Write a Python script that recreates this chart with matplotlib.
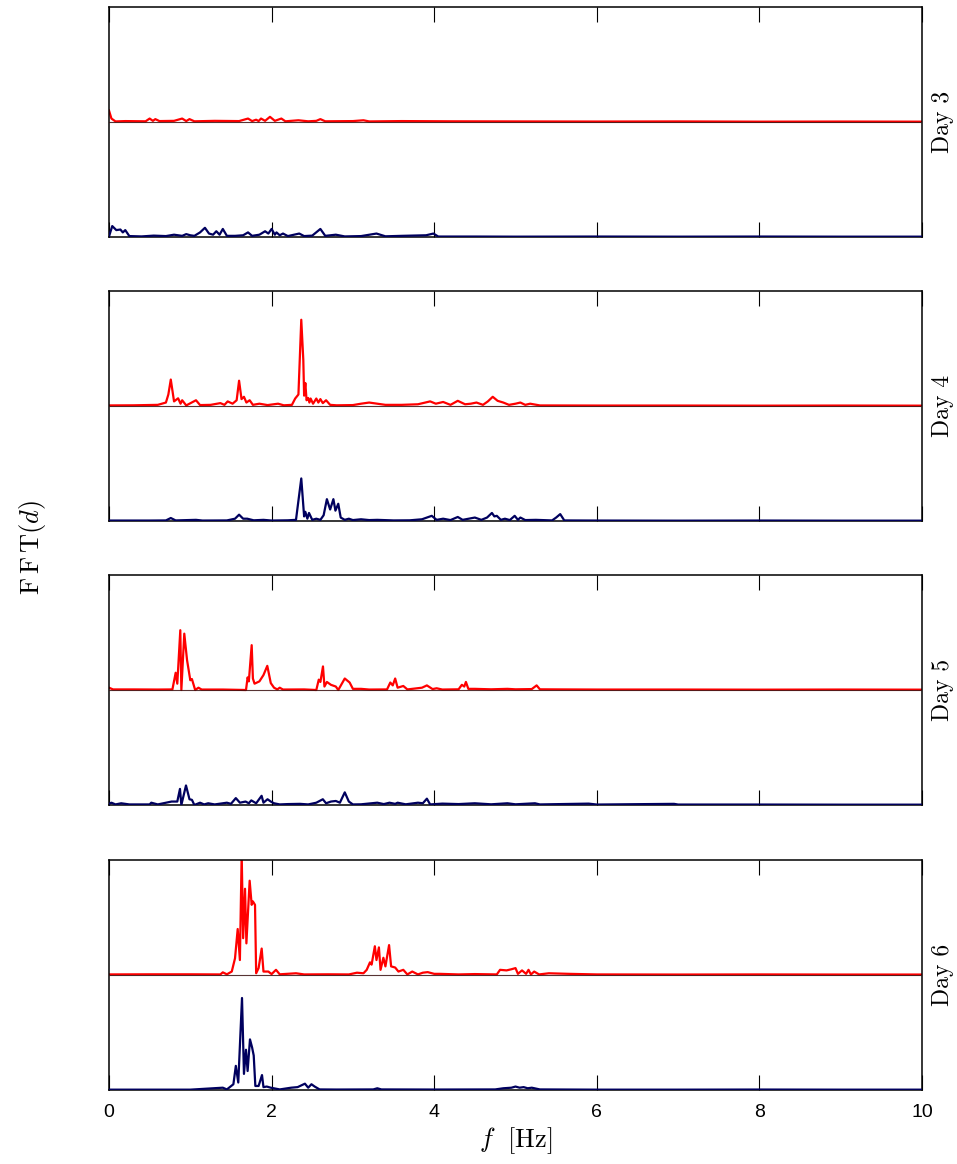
import matplotlib
matplotlib.use("Agg")
import matplotlib.pyplot as plt
import numpy as np

plt.rcParams["mathtext.fontset"] = "cm"

# Spectral amplitude (normalised) of the displacement signal, as (frequency [Hz], |FFT|) pairs.
# Upper trace (red) and lower trace (navy) for each day.
day3_red = [(0.0, 0.10), (0.03, 0.03), (0.08, 0.005), (0.2, 0.008), (0.45, 0.006), (0.5, 0.03),
            (0.54, 0.01), (0.57, 0.025), (0.62, 0.008), (0.8, 0.01), (0.9, 0.03), (0.95, 0.008),
            (0.99, 0.025), (1.05, 0.006), (1.3, 0.01), (1.6, 0.008), (1.71, 0.03), (1.76, 0.008),
            (1.81, 0.02), (1.84, 0.008), (1.87, 0.03), (1.92, 0.01), (1.98, 0.045), (2.04, 0.01),
            (2.08, 0.02), (2.12, 0.03), (2.17, 0.006), (2.33, 0.015), (2.45, 0.006), (2.55, 0.01),
            (2.6, 0.025), (2.66, 0.006), (3.0, 0.008), (3.13, 0.015), (3.2, 0.005), (3.6, 0.008),
            (4.2, 0.006), (5.0, 0.005), (6.0, 0.004), (7.0, 0.005), (8.0, 0.003), (9.0, 0.004),
            (10.0, 0.003)]
day3_navy = [(0.0, 0.005), (0.04, 0.095), (0.09, 0.06), (0.14, 0.065), (0.17, 0.04), (0.2, 0.06),
             (0.25, 0.008), (0.4, 0.005), (0.55, 0.012), (0.7, 0.008), (0.8, 0.02), (0.9, 0.01),
             (0.95, 0.025), (1.0, 0.015), (1.05, 0.01), (1.12, 0.04), (1.18, 0.08), (1.23, 0.03),
             (1.28, 0.02), (1.32, 0.05), (1.36, 0.02), (1.40, 0.07), (1.45, 0.01), (1.55, 0.01),
             (1.65, 0.015), (1.71, 0.04), (1.76, 0.01), (1.85, 0.02), (1.92, 0.05), (1.96, 0.03),
             (2.0, 0.07), (2.04, 0.02), (2.06, 0.04), (2.1, 0.015), (2.14, 0.03), (2.2, 0.008),
             (2.34, 0.03), (2.4, 0.008), (2.5, 0.012), (2.6, 0.07), (2.66, 0.01), (2.79, 0.02),
             (2.9, 0.005), (3.1, 0.008), (3.29, 0.03), (3.4, 0.006), (3.6, 0.01), (3.9, 0.015),
             (3.99, 0.03), (4.05, 0.004), (4.5, 0.004), (5.0, 0.003), (6.0, 0.004), (7.0, 0.003),
             (8.0, 0.004), (9.0, 0.003), (10.0, 0.003)]

day4_red = [(0.0, 0.005), (0.3, 0.006), (0.6, 0.01), (0.7, 0.03), (0.73, 0.1), (0.76, 0.23),
            (0.8, 0.04), (0.85, 0.067), (0.88, 0.02), (0.9, 0.05), (0.95, 0.005), (1.07, 0.05),
            (1.12, 0.008), (1.25, 0.01), (1.37, 0.025), (1.42, 0.01), (1.46, 0.04), (1.52, 0.02),
            (1.57, 0.05), (1.60, 0.22), (1.63, 0.06), (1.66, 0.08), (1.69, 0.03), (1.73, 0.05),
            (1.77, 0.01), (1.85, 0.02), (1.95, 0.008), (2.08, 0.02), (2.15, 0.006), (2.25, 0.01),
            (2.29, 0.065), (2.33, 0.1), (2.365, 0.75), (2.39, 0.4), (2.40, 0.09), (2.415, 0.2),
            (2.43, 0.05), (2.45, 0.07), (2.465, 0.03), (2.48, 0.065), (2.51, 0.02), (2.55, 0.065),
            (2.575, 0.03), (2.60, 0.06), (2.63, 0.025), (2.67, 0.05), (2.72, 0.01), (2.8, 0.006),
            (3.0, 0.008), (3.1, 0.02), (3.2, 0.03), (3.3, 0.02), (3.4, 0.01), (3.6, 0.01),
            (3.8, 0.015), (3.95, 0.04), (4.02, 0.02), (4.11, 0.035), (4.2, 0.01), (4.29, 0.045),
            (4.38, 0.015), (4.45, 0.02), (4.52, 0.03), (4.6, 0.01), (4.66, 0.04), (4.72, 0.08),
            (4.78, 0.045), (4.85, 0.03), (4.92, 0.01), (5.0, 0.02), (5.06, 0.03), (5.12, 0.01),
            (5.18, 0.02), (5.3, 0.005), (6.0, 0.004), (7.0, 0.004), (8.0, 0.003), (9.0, 0.004),
            (10.0, 0.003)]
day4_navy = [(0.0, 0.004), (0.5, 0.004), (0.7, 0.005), (0.76, 0.026), (0.82, 0.005), (1.07, 0.01),
             (1.15, 0.004), (1.45, 0.005), (1.55, 0.02), (1.60, 0.055), (1.65, 0.02), (1.70, 0.02),
             (1.78, 0.006), (1.9, 0.01), (2.0, 0.004), (2.2, 0.006), (2.3, 0.01), (2.365, 0.37),
             (2.40, 0.04), (2.415, 0.08), (2.44, 0.02), (2.46, 0.07), (2.50, 0.01), (2.55, 0.02),
             (2.60, 0.01), (2.64, 0.05), (2.68, 0.19), (2.72, 0.1), (2.76, 0.19), (2.785, 0.09),
             (2.82, 0.15), (2.85, 0.03), (2.9, 0.01), (2.95, 0.02), (3.0, 0.008), (3.1, 0.015),
             (3.2, 0.008), (3.3, 0.01), (3.5, 0.005), (3.7, 0.006), (3.85, 0.015), (3.97, 0.045),
             (4.03, 0.01), (4.11, 0.02), (4.2, 0.008), (4.29, 0.035), (4.35, 0.01), (4.50, 0.03),
             (4.58, 0.01), (4.65, 0.03), (4.71, 0.07), (4.74, 0.04), (4.77, 0.045), (4.82, 0.01),
             (4.87, 0.02), (4.93, 0.008), (4.99, 0.045), (5.03, 0.01), (5.06, 0.03), (5.12, 0.008),
             (5.25, 0.01), (5.45, 0.005), (5.5, 0.03), (5.55, 0.06), (5.6, 0.005), (6.0, 0.004),
             (7.0, 0.003), (8.0, 0.004), (9.0, 0.003), (10.0, 0.003)]

day5_red = [(0.0, 0.02), (0.05, 0.005), (0.3, 0.005), (0.6, 0.004), (0.78, 0.005), (0.82, 0.15),
            (0.84, 0.055), (0.877, 0.52), (0.89, 0.0), (0.926, 0.49), (0.96, 0.26), (1.0, 0.085),
            (1.02, 0.095), (1.06, 0.0), (1.10, 0.02), (1.14, 0.004), (1.4, 0.004), (1.685, 0.0),
            (1.705, 0.11), (1.72, 0.075), (1.755, 0.39), (1.77, 0.1), (1.79, 0.055), (1.85, 0.075),
            (1.90, 0.13), (1.947, 0.21), (1.99, 0.06), (2.03, 0.02), (2.07, 0.005), (2.1, 0.02),
            (2.14, 0.004), (2.4, 0.005), (2.55, 0.0), (2.58, 0.09), (2.60, 0.07), (2.632, 0.205),
            (2.65, 0.03), (2.68, 0.07), (2.73, 0.045), (2.79, 0.03), (2.82, 0.0), (2.90, 0.1),
            (2.96, 0.065), (3.0, 0.01), (3.1, 0.01), (3.2, 0.004), (3.42, 0.005), (3.46, 0.065),
            (3.49, 0.04), (3.52, 0.1), (3.55, 0.02), (3.62, 0.035), (3.67, 0.005), (3.79, 0.015),
            (3.85, 0.02), (3.91, 0.04), (3.98, 0.008), (4.03, 0.015), (4.1, 0.004), (4.3, 0.006),
            (4.34, 0.045), (4.37, 0.03), (4.39, 0.07), (4.42, 0.01), (4.5, 0.01), (4.7, 0.006),
            (4.9, 0.01), (5.0, 0.006), (5.2, 0.008), (5.26, 0.04), (5.3, 0.006), (5.6, 0.005),
            (6.0, 0.004), (7.0, 0.004), (8.0, 0.003), (9.0, 0.004), (10.0, 0.003)]
day5_navy = [(0.0, 0.01), (0.03, 0.02), (0.08, 0.005), (0.15, 0.015), (0.25, 0.005), (0.5, 0.005),
             (0.52, 0.02), (0.6, 0.005), (0.77, 0.03), (0.8, 0.03), (0.84, 0.03), (0.873, 0.14),
             (0.89, 0.0), (0.947, 0.17), (0.99, 0.05), (1.02, 0.045), (1.05, 0.0), (1.12, 0.02),
             (1.17, 0.005), (1.22, 0.015), (1.3, 0.005), (1.45, 0.02), (1.50, 0.01), (1.56, 0.06),
             (1.61, 0.02), (1.68, 0.03), (1.72, 0.015), (1.75, 0.04), (1.81, 0.015), (1.877, 0.08),
             (1.90, 0.02), (1.95, 0.05), (1.99, 0.03), (2.03, 0.015), (2.1, 0.005), (2.2, 0.008),
             (2.35, 0.01), (2.45, 0.005), (2.55, 0.02), (2.63, 0.05), (2.67, 0.015), (2.73, 0.03),
             (2.79, 0.035), (2.84, 0.02), (2.90, 0.11), (2.95, 0.03), (3.0, 0.005), (3.1, 0.006),
             (3.3, 0.02), (3.38, 0.008), (3.45, 0.02), (3.52, 0.01), (3.55, 0.02), (3.65, 0.006),
             (3.80, 0.02), (3.86, 0.015), (3.91, 0.055), (3.95, 0.005), (4.1, 0.012), (4.3, 0.008),
             (4.5, 0.015), (4.7, 0.006), (4.9, 0.015), (5.0, 0.006), (5.24, 0.015), (5.3, 0.005),
             (5.9, 0.012), (6.0, 0.004), (6.95, 0.01), (7.0, 0.004), (8.0, 0.004), (9.0, 0.003),
             (10.0, 0.003)]

day6_red = [(0.0, 0.005), (0.5, 0.006), (1.0, 0.006), (1.37, 0.005), (1.40, 0.023), (1.45, 0.006),
            (1.51, 0.03), (1.55, 0.145), (1.583, 0.40), (1.61, 0.13), (1.632, 1.05), (1.65, 0.32),
            (1.673, 0.75), (1.69, 0.275), (1.73, 0.82), (1.755, 0.61), (1.77, 0.64), (1.796, 0.61),
            (1.81, 0.015), (1.84, 0.06), (1.878, 0.23), (1.90, 0.03), (1.96, 0.03), (2.0, 0.008),
            (2.054, 0.045), (2.1, 0.006), (2.30, 0.015), (2.4, 0.005), (2.7, 0.006), (2.95, 0.005),
            (3.05, 0.02), (3.13, 0.015), (3.17, 0.045), (3.21, 0.11), (3.23, 0.09), (3.27, 0.25),
            (3.29, 0.13), (3.32, 0.24), (3.34, 0.045), (3.375, 0.15), (3.40, 0.075), (3.445, 0.26),
            (3.47, 0.075), (3.52, 0.065), (3.56, 0.03), (3.62, 0.045), (3.67, 0.005), (3.73, 0.03),
            (3.80, 0.005), (3.86, 0.02), (3.92, 0.025), (4.0, 0.01), (4.07, 0.01), (4.3, 0.005),
            (4.5, 0.008), (4.77, 0.005), (4.81, 0.045), (4.89, 0.04), (4.95, 0.05), (5.0, 0.06),
            (5.03, 0.01), (5.08, 0.04), (5.13, 0.01), (5.16, 0.045), (5.19, 0.005), (5.23, 0.03),
            (5.29, 0.005), (5.41, 0.015), (5.66, 0.01), (6.0, 0.005), (7.0, 0.004), (8.0, 0.005),
            (9.0, 0.004), (10.0, 0.004)]
day6_navy = [(0.0, 0.003), (1.0, 0.003), (1.40, 0.02), (1.45, 0.005), (1.53, 0.05), (1.56, 0.21),
             (1.59, 0.065), (1.636, 0.80), (1.66, 0.14), (1.685, 0.35), (1.705, 0.165), (1.734, 0.44),
             (1.76, 0.37), (1.78, 0.30), (1.80, 0.035), (1.84, 0.035), (1.882, 0.13), (1.90, 0.025),
             (1.94, 0.03), (1.99, 0.02), (2.1, 0.005), (2.24, 0.02), (2.32, 0.025), (2.41, 0.055),
             (2.45, 0.02), (2.49, 0.05), (2.53, 0.03), (2.59, 0.005), (2.8, 0.004), (3.25, 0.005),
             (3.3, 0.015), (3.35, 0.005), (4.0, 0.004), (4.75, 0.005), (4.85, 0.015), (4.95, 0.02),
             (5.0, 0.03), (5.05, 0.02), (5.1, 0.025), (5.15, 0.015), (5.2, 0.02), (5.3, 0.005),
             (6.0, 0.003), (7.0, 0.003), (8.0, 0.004), (9.0, 0.003), (10.0, 0.003)]

day_labels = ["Day 3", "Day 4", "Day 5", "Day 6"]
x_ticks = [0, 2, 4, 6, 8, 10]

panels = [(day3_red, day3_navy), (day4_red, day4_navy),
          (day5_red, day5_navy), (day6_red, day6_navy)]

RED = "#ff0000"
NAVY = "#00005e"
OFFSET = 1.0  # vertical shift of the upper trace

W, H = 957, 1164
fig = plt.figure(figsize=(W / 100, H / 100), dpi=100)

left_px, right_px = 109, 922
bottoms_px = [237, 521, 805, 1090]
panel_h = 230

tick_font = ["Liberation Sans Narrow", "Liberation Sans", "DejaVu Sans"]

for i, ((red, navy), label) in enumerate(zip(panels, day_labels)):
    b = bottoms_px[i]
    ax = fig.add_axes([left_px / W, 1 - b / H, (right_px - left_px) / W, panel_h / H])
    rf, ra = np.array(red).T
    nf, na = np.array(navy).T
    ax.plot(rf, ra + OFFSET, color=RED, lw=1.6, zorder=2)
    ax.plot(nf, na, color=NAVY, lw=1.6, zorder=3)
    ax.axhline(OFFSET, color="#3a1010", lw=0.8, alpha=0.85, zorder=3)
    ax.set_xlim(0, 10)
    ax.set_ylim(0, 2 * OFFSET)
    ax.set_yticks([])
    ax.set_xticks(x_ticks)
    ax.tick_params(axis="x", direction="in", top=True, bottom=True, length=11,
                   width=0.8, pad=10, labelsize=14)
    for sp in ax.spines.values():
        sp.set_linewidth(1.1)
    if i < 3:
        ax.set_xticklabels([])
    else:
        for t in ax.get_xticklabels():
            t.set_family(tick_font)
    ax.text(1.012, 0.5, label, transform=ax.transAxes, rotation=90,
            ha="left", va="center", fontsize=17, family="cmr10")

fig.text(0.034, 1 - 548 / H, r"$\mathrm{F\,F\,T}(d)$", rotation=90,
         ha="center", va="center", fontsize=19)
fig.text((left_px + right_px) / 2 / W, 1 - 1141 / H, r"$f\ \ [\mathrm{Hz}]$",
         ha="center", va="center", fontsize=19)

fig.savefig("out.png", dpi=100)
